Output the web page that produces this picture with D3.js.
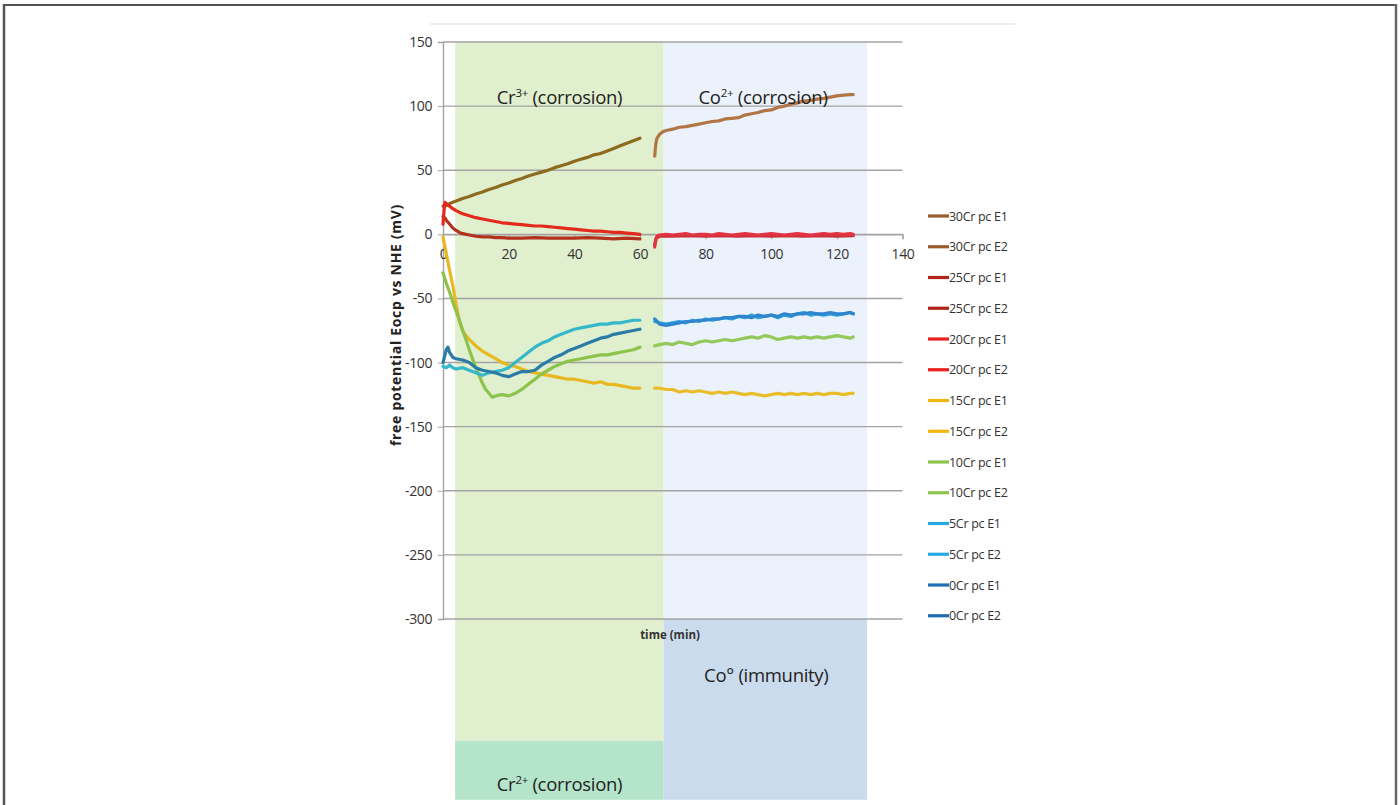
<!DOCTYPE html>
<html><head><meta charset="utf-8">
<script src="https://cdn.jsdelivr.net/npm/d3@7/dist/d3.min.js"></script>
<style>
html,body{margin:0;padding:0;background:#fff;}
svg{display:block;font-family:"Open Sans","Noto Sans",sans-serif;}
</style></head>
<body><svg id="c" width="1400" height="805"></svg>
<script>
// ---------- data ----------
const seriesNames = ["30Cr pc E1","30Cr pc E2","25Cr pc E1","25Cr pc E2","20Cr pc E1","20Cr pc E2",
  "15Cr pc E1","15Cr pc E2","10Cr pc E1","10Cr pc E2","5Cr pc E1","5Cr pc E2","0Cr pc E1","0Cr pc E2"];
const legendColors = ["#9a5b2c","#9a5b2c","#b3221c","#b3221c","#e8211e","#e8211e",
  "#f3b512","#f3b512","#8dc44d","#8dc44d","#27a9e1","#27a9e1","#1f6db4","#1f6db4"];
const lineColors = ["#8c6a1e","#b27546","#b2321e","#c8323a","#e42a1c","#e33343",
  "#e9b821","#e9bd2a","#8cc34a","#93c85a","#35b8c9","#2aa2dd","#2a7ca6","#2f86cf"];
const xTicks = [0,20,40,60,80,100,120,140];
const yTicks = [150,100,50,0,-50,-100,-150,-200,-250,-300];

const s30E1 = [[0,22],[1,22.5],[2,24],[4,26],[6,28],[8,29.5],[10,31.5],[12,33],[14,35],[16,36.5],[18,38.5],[20,40],[22,42],[24,43.5],[26,45.5],[28,47],[30,48.5],[32,50],[34,52],[36,53.5],[38,55],[40,57],[42,58.5],[44,60],[46,62],[48,63],[50,65],[52,67],[54,69],[56,71],[58,73],[60,75]];
const s30E2 = [[64.5,61],[64.8,70],[65.2,75],[66,78],[67,80],[68,81],[70,82],[72,83.5],[74,84],[76,85],[78,86],[80,87],[82,88],[84,88.5],[86,90],[88,90.5],[90,91],[92,93],[94,94],[96,95],[98,96.5],[100,97],[102,99],[104,100],[106,101.5],[108,102.5],[110,104],[112,104.5],[114,105.5],[116,106],[118,107],[120,108],[122,108.5],[124,109],[125,109]];
const s25E1 = [[0,14],[0.5,13],[1,11],[2,8],[3,5],[4,3],[5,1.5],[6,0.5],[8,-0.5],[10,-1.5],[12,-2],[14,-2],[16,-2.5],[18,-2.5],[20,-3],[24,-3],[28,-2.5],[32,-3],[36,-3],[40,-3],[44,-2.5],[48,-3],[52,-3.5],[56,-3],[60,-3.5]];
const s25E2 = [[64.5,-8],[65,-3],[66,-1.5],[70,-1.5],[75,-1],[80,-1.5],[85,-1],[90,-1.5],[95,-1],[100,-1.5],[105,-1],[110,-1.5],[115,-1],[120,-1.5],[125,-1]];
const s20E1 = [[0,8],[0.3,18],[0.6,25],[1,24],[2,22],[3,20],[4,18.5],[6,16],[8,14.5],[10,13],[12,12],[14,11],[16,10],[18,9],[20,8.5],[22,8],[24,7.5],[26,7],[28,6.5],[30,6.5],[32,6],[34,5.5],[36,5],[38,4.5],[40,4],[42,3.5],[44,3],[46,2.5],[48,2.5],[50,2],[52,1.5],[54,1.5],[56,1],[58,0.5],[60,0]];
const s20E2 = [[64.5,-10],[64.8,-4],[65.2,-1.5],[66,-0.5],[68,0],[70,-0.5],[72,0],[74,0.5],[76,-0.5],[78,0],[80,0],[82,-0.5],[84,0.5],[86,0],[88,-0.5],[90,0],[92,0.5],[94,0],[96,-0.5],[98,0],[100,0.5],[102,0],[104,-0.5],[106,0],[108,0.5],[110,0],[112,-0.5],[114,0],[116,0.5],[118,0],[120,0.5],[122,0],[124,0.5],[125,0]];
const s15E1 = [[0,-2],[1,-15],[2,-28],[3,-40],[4,-55],[5,-68],[6,-75],[7,-79],[8,-82],[10,-87],[12,-91],[14,-94],[16,-97],[18,-100],[20,-102],[22,-103],[24,-105],[26,-107],[28,-108],[30,-109],[32,-110],[34,-111],[36,-112],[38,-113],[40,-113],[42,-114],[44,-115],[46,-116],[48,-115],[50,-117],[52,-117],[54,-118],[56,-119],[58,-120],[60,-120]];
const s15E2 = [[64.5,-120],[66,-120],[68,-121],[70,-121],[72,-123],[74,-122],[76,-123],[78,-122],[80,-123],[82,-124],[84,-123],[86,-124],[88,-123],[90,-124],[92,-125],[94,-124],[96,-125],[98,-126],[100,-125],[102,-124],[104,-125],[106,-124],[108,-125],[110,-124],[112,-125],[114,-124],[116,-125],[118,-124],[120,-124],[122,-125],[124,-124],[125,-124]];
const s10E1 = [[0,-30],[1,-38],[2,-45],[3,-53],[4,-60],[5,-67],[6,-75],[7,-82],[8,-90],[9,-97],[10,-104],[11,-110],[12,-116],[13,-121],[14,-124],[15,-127],[16,-126],[18,-125],[20,-126],[22,-124],[24,-121],[26,-117],[28,-113],[30,-109],[32,-106],[34,-103],[36,-101],[38,-99],[40,-98],[42,-97],[44,-96],[46,-95],[48,-94],[50,-94],[52,-93],[54,-92],[56,-91],[58,-90],[60,-88]];
const s10E2 = [[64.5,-87],[66,-86],[68,-85],[70,-86],[72,-84],[74,-85],[76,-86],[78,-84],[80,-83],[82,-84],[84,-83],[86,-82],[88,-83],[90,-82],[92,-81],[94,-80],[96,-81],[98,-79],[100,-80],[102,-82],[104,-81],[106,-80],[108,-81],[110,-80],[112,-81],[114,-80],[116,-81],[118,-80],[120,-79],[122,-80],[124,-81],[125,-80]];
const s5E1 = [[0,-103],[1,-104],[2,-102],[3,-104],[4,-105],[6,-104],[8,-106],[10,-108],[12,-110],[14,-108],[16,-107],[18,-106],[20,-104],[22,-100],[24,-96],[26,-92],[28,-88],[30,-85],[32,-83],[34,-80],[36,-78],[38,-76],[40,-74],[42,-73],[44,-72],[46,-71],[48,-70],[50,-70],[52,-69],[54,-69],[56,-68],[58,-67],[60,-67]];
const s5E2 = [[64.5,-68],[66,-69],[68,-70],[70,-69],[72,-68],[74,-69],[76,-67],[78,-68],[80,-66],[82,-67],[84,-66],[86,-65],[88,-66],[90,-64],[92,-65],[94,-63],[96,-65],[98,-64],[100,-63],[102,-65],[104,-63],[106,-64],[108,-62],[110,-61],[112,-63],[114,-62],[116,-63],[118,-62],[120,-63],[122,-62],[124,-61],[125,-62]];
const s0E1 = [[0,-100],[0.5,-95],[1,-90],[1.5,-88],[2,-92],[3,-96],[4,-97],[6,-98],[8,-100],[10,-104],[12,-106],[14,-107],[16,-108],[18,-110],[20,-111],[22,-109],[24,-107],[26,-107],[28,-106],[30,-102],[32,-99],[34,-96],[36,-94],[38,-91],[40,-89],[42,-87],[44,-85],[46,-83],[48,-81],[50,-80],[52,-78],[54,-77],[56,-76],[58,-75],[60,-74]];
const s0E2 = [[64.5,-66],[66,-70],[68,-71],[70,-70],[72,-69],[74,-68],[76,-68],[78,-67],[80,-67],[82,-66],[84,-66],[86,-65],[88,-65],[90,-64],[92,-64],[94,-65],[96,-63],[98,-64],[100,-63],[102,-64],[104,-62],[106,-63],[108,-62],[110,-62],[112,-61],[114,-62],[116,-62],[118,-61],[120,-62],[122,-62],[124,-61],[125,-62]];
const seriesData = [s30E1,s30E2,s25E1,s25E2,s20E1,s20E2,s15E1,s15E2,s10E1,s10E2,s5E1,s5E2,s0E1,s0E2];

// background regions in data units (time min, potential mV)
const regionT = [[3.7,67.2],[3.7,67.2],[67.2,129.2],[67.2,129.2]];
const regionV = [[150,-395],[-395,-441],[150,-300],[-300,-441]];
const regionFill = ["#e0efce","#b4e5ca","#ebf2fb","#cbdbee"];
const regionLabels = [
  {t:35.5, v:101.5, base:"Cr", sup:"3+", rest:" (corrosion)"},
  {t:97.5, v:101.5, base:"Co", sup:"2+", rest:" (corrosion)"},
  {t:98.5, v:-349.5, base:"Co° (immunity)", sup:"", rest:""},
  {t:35.5, v:-434.5, base:"Cr", sup:"2+", rest:" (corrosion)"}
];

// ---------- drawing ----------
const svg = d3.select("#c");
const x = d3.scaleLinear().domain([0,140]).range([443,902.5]);
const y = d3.scaleLinear().domain([-300,150]).range([619,42]);

// frame
svg.append("line").attr("x1",4).attr("x2",1396).attr("y1",5).attr("y2",5).attr("stroke","#555").attr("stroke-width",2);
svg.append("line").attr("x1",4).attr("x2",4).attr("y1",4).attr("y2",805).attr("stroke","#555").attr("stroke-width",2.5);
svg.append("line").attr("x1",1396).attr("x2",1396).attr("y1",4).attr("y2",805).attr("stroke","#666").attr("stroke-width",2.5);
svg.append("line").attr("x1",430).attr("x2",1015).attr("y1",24).attr("y2",24).attr("stroke","#eeeeee").attr("stroke-width",2);

// regions
svg.append("g").selectAll("rect").data(regionFill).join("rect")
  .attr("x",(d,i)=>x(regionT[i][0]))
  .attr("width",(d,i)=>x(regionT[i][1])-x(regionT[i][0]))
  .attr("y",(d,i)=>y(regionV[i][0]))
  .attr("height",(d,i)=>y(regionV[i][1])-y(regionV[i][0]))
  .attr("fill",d=>d);

// gridlines (horizontal)
svg.append("g").selectAll("line").data(yTicks).join("line")
  .attr("x1",x(0)).attr("x2",x(140))
  .attr("y1",d=>y(d)).attr("y2",d=>y(d))
  .attr("stroke","#a3a3a3").attr("stroke-width",1.4);

// y axis
const yAxis = svg.append("g").attr("transform",`translate(${x(0)},0)`)
  .call(d3.axisLeft(y).tickValues(yTicks).tickFormat(d=>String(d)).tickSize(5).tickPadding(6));
yAxis.select(".domain").attr("stroke","#a3a3a3").attr("stroke-width",1.4);
yAxis.selectAll(".tick line").attr("stroke","#a3a3a3");
yAxis.selectAll("text").attr("font-size","14px").attr("fill","#333").attr("font-family","Open Sans").attr("letter-spacing","-0.4");

// x axis at 0
const xAxis = svg.append("g").attr("transform",`translate(0,${y(0)})`)
  .call(d3.axisBottom(x).tickValues(xTicks).tickFormat(d=>String(d)).tickSize(5).tickPadding(10));
xAxis.select(".domain").attr("stroke","#a3a3a3").attr("stroke-width",1.4);
xAxis.selectAll(".tick line").attr("stroke","#a3a3a3");
xAxis.selectAll("text").attr("font-size","14px").attr("fill","#333").attr("font-family","Open Sans").attr("letter-spacing","-0.4");

// lines
const line = d3.line().x(d=>x(d[0])).y(d=>y(d[1]));
const drawOrder = [0,1,2,3,4,5,6,7,8,9,10,12,11,13];
svg.append("g").selectAll("path").data(drawOrder).join("path")
  .attr("d",i=>line(seriesData[i]))
  .attr("fill","none").attr("stroke",i=>lineColors[i])
  .attr("stroke-width",3.2).attr("stroke-linejoin","round").attr("stroke-linecap","round");

// region labels
const rl = svg.append("g").selectAll("text").data(regionLabels).join("text")
  .attr("x",d=>x(d.t)).attr("y",d=>y(d.v)).attr("text-anchor","middle")
  .attr("font-size","18.5px").attr("fill","#222").attr("font-family","Open Sans").attr("letter-spacing","-0.3");
rl.each(function(d){
  const t = d3.select(this);
  t.append("tspan").text(d.base);
  if(d.sup){
    t.append("tspan").text(d.sup).attr("font-size","11.5px").attr("dy","-7");
    t.append("tspan").text(d.rest).attr("dy","7");
  }
});

// axis titles
svg.append("text").attr("x",670).attr("y",639).attr("text-anchor","middle")
  .attr("font-size","11.5px").attr("font-weight","bold").attr("fill","#333").text("time (min)");
svg.append("text").attr("transform","translate(401,325) rotate(-90)").attr("text-anchor","middle")
  .attr("font-size","14px").attr("font-weight","bold").attr("fill","#222").attr("letter-spacing","0.7")
  .text("free potential Eocp vs NHE (mV)");

// legend
const lg = svg.append("g").selectAll("g").data(seriesNames).join("g")
  .attr("transform",(d,i)=>`translate(928,${216+i*30.75})`);
lg.append("line").attr("x1",0).attr("x2",21).attr("y1",0).attr("y2",0)
  .attr("stroke",(d,i)=>legendColors[i]).attr("stroke-width",3.2);
lg.append("text").attr("x",21).attr("y",4.5).attr("font-size","12.5px").attr("fill","#333")
  .attr("letter-spacing","-0.3").text(d=>d);
</script></body></html>
